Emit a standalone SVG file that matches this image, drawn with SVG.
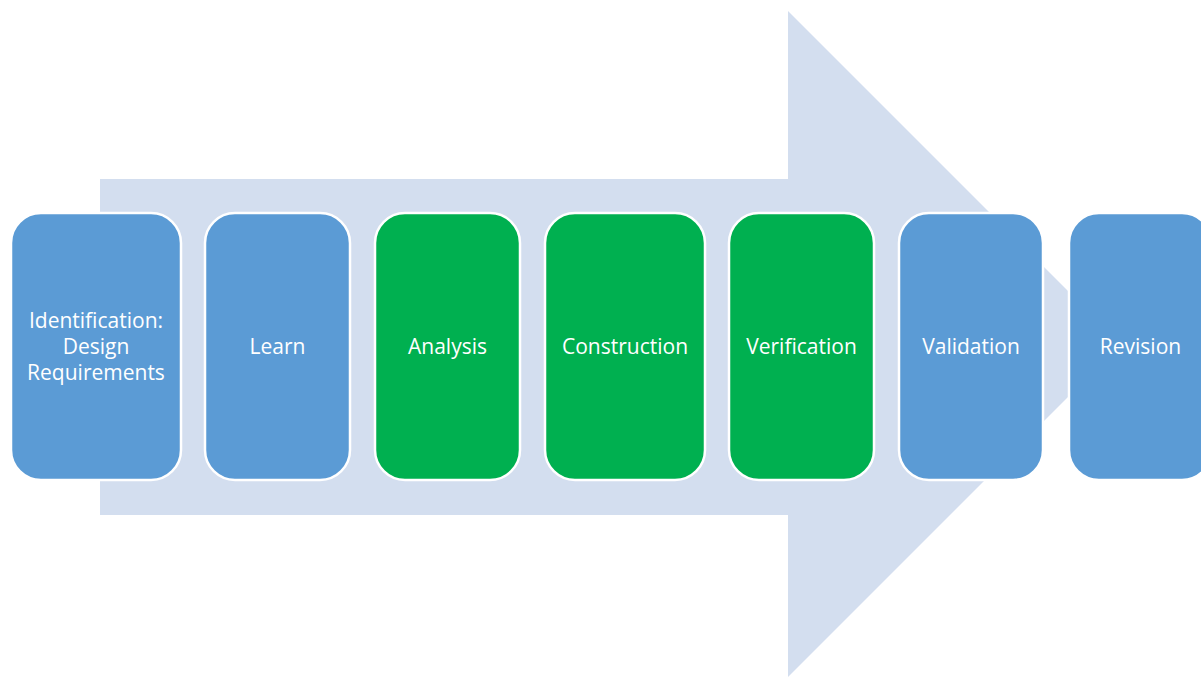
<svg xmlns="http://www.w3.org/2000/svg" width="1201" height="677" viewBox="0 0 1201 677">
<style>
.n rect{stroke:#fff;stroke-width:2.5}
.b{fill:#5B9BD5}
.g{fill:#00B050}
text{font-family:"Open Sans","Liberation Sans",sans-serif;font-size:21px;fill:#fff;text-anchor:middle;dominant-baseline:central}
</style>
<rect width="1201" height="677" fill="#fff"/>
<g id="connectors">
<polygon points="100,179 788,179 788,11 1121,344 788,677 788,515 100,515" fill="#D3DEEF"/>
</g>
<g id="n1" class="n"><rect class="b" x="11" y="213" width="170" height="267" rx="30"/><text x="96" y="320">Identification:</text><text x="96" y="346">Design</text><text x="96" y="372">Requirements</text></g>
<g id="n2" class="n"><rect class="b" x="205" y="213" width="145" height="267" rx="30"/><text x="277.5" y="346">Learn</text></g>
<g id="n3" class="n"><rect class="g" x="375" y="213" width="145" height="267" rx="30"/><text x="447.5" y="346">Analysis</text></g>
<g id="n4" class="n"><rect class="g" x="545" y="213" width="160" height="267" rx="30"/><text x="625" y="346">Construction</text></g>
<g id="n5" class="n"><rect class="g" x="729" y="213" width="145" height="267" rx="30"/><text x="801.5" y="346">Verification</text></g>
<g id="n6" class="n"><rect class="b" x="899" y="213" width="144" height="267" rx="30"/><text x="971" y="346">Validation</text></g>
<g id="n7" class="n"><rect class="b" x="1069" y="213" width="143" height="267" rx="30"/><text x="1140.5" y="346">Revision</text></g>
</svg>
